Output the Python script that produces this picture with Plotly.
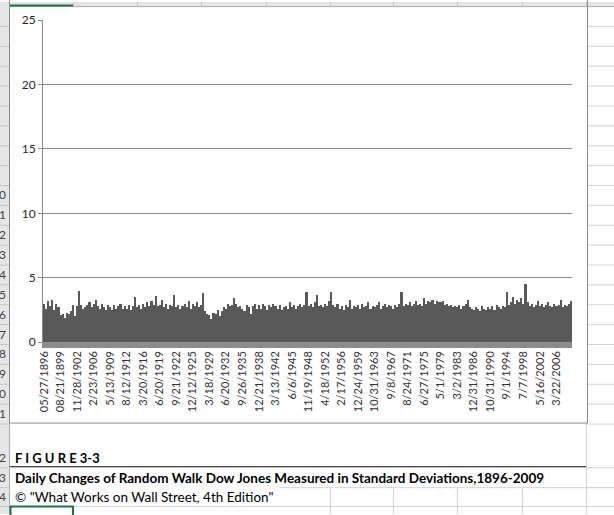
import plotly.graph_objects as go

# ---------------- data ----------------
tick_labels = ["05/27/1896", "08/21/1899", "11/28/1902", "2/23/1906", "5/13/1909",
               "8/12/1912", "3/20/1916", "6/20/1919", "9/21/1922", "12/12/1925",
               "3/18/1929", "6/20/1932", "9/26/1935", "12/21/1938", "3/13/1942",
               "6/6/1945", "11/19/1948", "4/18/1952", "2/17/1956", "12/24/1959",
               "10/31/1963", "9/8/1967", "8/24/1971", "6/27/1975", "5/1/1979",
               "3/2/1983", "12/31/1986", "10/31/1990", "9/1/1994", "7/7/1998",
               "5/16/2002", "3/22/2006"]

# daily changes in standard deviations (envelope, 8 values per labelled period)
std_changes = [
    3.0, 2.6, 3.2, 2.8, 3.3, 2.5, 3.0, 2.7,
    2.1, 2.2, 1.9, 2.3, 2.2, 2.4, 2.9, 2.0,
    2.8, 4.0, 2.9, 2.6, 2.7, 2.9, 3.1, 2.7,
    3.0, 3.3, 2.8, 2.6, 3.0, 2.7, 2.5, 2.9,
    2.7, 2.5, 2.9, 2.6, 2.8, 3.0, 2.6, 2.8,
    2.6, 2.9, 2.5, 2.8, 3.5, 2.7, 2.9, 2.6,
    3.0, 2.7, 3.1, 2.8, 3.2, 2.9, 3.6, 2.8,
    2.9, 3.3, 2.7, 3.0, 2.6, 2.9, 2.8, 3.7,
    2.7, 2.9, 2.6, 2.8, 3.0, 2.7, 3.2, 2.6,
    3.0, 2.8, 3.1, 2.7, 2.9, 3.8, 2.4, 2.2,
    2.1, 1.8, 2.3, 2.2, 2.5, 2.0, 2.4, 2.7,
    2.6, 3.0, 2.8, 2.9, 3.4, 3.0, 2.7, 2.8,
    2.6, 2.4, 2.9, 2.7, 2.2, 2.8, 3.0, 2.6,
    2.9, 2.6, 3.0, 2.8, 2.5, 2.9, 2.7, 3.0,
    2.8, 2.6, 2.9, 2.5, 2.7, 2.8, 2.6, 3.1,
    2.7, 2.9, 2.6, 2.8, 3.0, 2.7, 2.9, 3.9,
    2.8, 3.0, 2.7, 3.1, 3.7, 2.8, 2.9, 2.7,
    3.0, 2.8, 3.2, 3.9, 2.9, 2.7, 3.0, 2.6,
    2.8, 2.5, 2.9, 2.7, 3.3, 2.6, 2.8, 2.7,
    2.9, 2.6, 3.0, 2.7, 2.8, 3.1, 2.6, 2.8,
    2.7, 2.9, 3.1, 2.6, 2.8, 3.0, 2.7, 2.9,
    2.8, 2.6, 2.9, 2.7, 3.0, 3.9, 2.8, 3.0,
    2.9, 3.1, 2.8, 3.0, 3.2, 2.9, 3.0, 2.8,
    3.4, 3.0, 3.2, 3.1, 3.3, 3.0, 3.2, 3.1,
    3.1, 3.2, 2.9, 3.0, 2.8, 2.9, 2.7, 2.8,
    2.7, 2.9, 2.6, 2.8, 3.0, 3.3, 2.7, 2.6,
    2.5, 2.7, 2.6, 2.4, 2.8, 2.6, 2.5, 2.7,
    2.6, 2.8, 2.5, 2.9, 2.7, 2.6, 2.8, 2.7,
    3.9, 2.9, 3.1, 3.5, 3.0, 3.3, 3.1, 3.4,
    3.0, 4.5, 3.1, 2.8, 3.0, 2.7, 2.9, 3.2,
    2.8, 3.0, 2.7, 2.9, 3.1, 2.8, 2.7, 3.0,
    2.8, 2.9, 3.3, 2.7, 2.9, 2.8, 3.0, 3.2,
]
y_ticks = [0, 5, 10, 15, 20, 25]

fig_title_1 = "F I G U R E 3-3"
fig_title_2 = "Daily Changes of Random Walk Dow Jones Measured in Standard Deviations,1896-2009"
fig_title_3 = "\u00a9 \"What Works on Wall Street, 4th Edition\""

# ---------------- layout geometry ----------------
W, H = 614, 515
PL, PR, PT, PB = 43, 572, 18, 348   # plot area in pixels
FONT = "Lato"

def fx(px):
    return (px - PL) / (PR - PL)

def fy(py):
    return (PB - py) / (PB - PT)

n = len(std_changes)
per = n // len(tick_labels)
idx = list(range(n))
tickvals = [i * per for i in range(len(tick_labels))]

fig = go.Figure()
fig.add_trace(go.Bar(x=idx, y=std_changes, marker=dict(color="#595959", line=dict(width=0)),
                     hoverinfo="skip"))

shapes = []
grid_c = "#d4d4d4"
row_lines = [4 + 20 * k for k in range(1, 21)] + [424, 468, 488, 507]
for yy in row_lines:
    shapes.append(dict(type="line", xref="paper", yref="paper", x0=fx(587), x1=fx(614),
                       y0=fy(yy + 0.5), y1=fy(yy + 0.5), line=dict(color=grid_c, width=1), layer="below"))
for xx in [330, 393, 457, 522]:
    shapes.append(dict(type="line", xref="paper", yref="paper", x0=fx(xx + 0.5), x1=fx(xx + 0.5),
                       y0=fy(488), y1=fy(515), line=dict(color=grid_c, width=1), layer="below"))
shapes.append(dict(type="line", xref="paper", yref="paper", x0=fx(280), x1=fx(614),
                   y0=fy(488.5), y1=fy(488.5), line=dict(color=grid_c, width=1), layer="below"))
shapes.append(dict(type="line", xref="paper", yref="paper", x0=fx(73), x1=fx(614),
                   y0=fy(507.5), y1=fy(507.5), line=dict(color=grid_c, width=1), layer="below"))
shapes.append(dict(type="line", xref="paper", yref="paper", x0=fx(586.5), x1=fx(586.5),
                   y0=fy(423), y1=fy(515), line=dict(color=grid_c, width=1), layer="below"))

# column header strip (top)
shapes.append(dict(type="rect", xref="paper", yref="paper", x0=fx(0), x1=fx(614), y0=fy(0), y1=fy(4.5),
                   fillcolor="#e6e6e6", line=dict(width=0), layer="below"))
shapes.append(dict(type="line", xref="paper", yref="paper", x0=fx(0), x1=fx(614), y0=fy(4.5), y1=fy(4.5),
                   line=dict(color="#ababab", width=1), layer="below"))
for xx in [73, 137, 201, 266, 330, 393, 457, 522, 586]:
    shapes.append(dict(type="line", xref="paper", yref="paper", x0=fx(xx + 0.5), x1=fx(xx + 0.5),
                       y0=fy(0), y1=fy(4.5), line=dict(color="#c6c6c6", width=1), layer="below"))
shapes.append(dict(type="line", xref="paper", yref="paper", x0=fx(10), x1=fx(73), y0=fy(3.5), y1=fy(3.5),
                   line=dict(color="#217346", width=2), layer="below"))

# row header strip (left)
shapes.append(dict(type="rect", xref="paper", yref="paper", x0=fx(0), x1=fx(9.5), y0=fy(0), y1=fy(515),
                   fillcolor="#e6e6e6", line=dict(width=0), layer="below"))
shapes.append(dict(type="line", xref="paper", yref="paper", x0=fx(9.5), x1=fx(9.5), y0=fy(0), y1=fy(515),
                   line=dict(color="#ababab", width=1), layer="below"))
for yy in row_lines:
    shapes.append(dict(type="line", xref="paper", yref="paper", x0=fx(0), x1=fx(9.5),
                       y0=fy(yy + 0.5), y1=fy(yy + 0.5), line=dict(color="#c6c6c6", width=1), layer="below"))

# chart area border
shapes.append(dict(type="rect", xref="paper", yref="paper", x0=fx(9.5), x1=fx(587.5), y0=fy(-5), y1=fy(423.5),
                   fillcolor="rgba(0,0,0,0)", line=dict(color="#8a8a8a", width=1), layer="below"))

# thick grey horizontal axis band under the bars
shapes.append(dict(type="rect", xref="paper", yref="y", x0=0, x1=1, y0=-0.45, y1=0,
                   fillcolor="#8c8c8c", line=dict(width=0), layer="above"))

# black rule under figure label, selected cell
shapes.append(dict(type="line", xref="paper", yref="paper", x0=fx(10), x1=fx(586), y0=fy(467.5), y1=fy(467.5),
                   line=dict(color="#000000", width=1), layer="below"))
shapes.append(dict(type="rect", xref="paper", yref="paper", x0=fx(10.5), x1=fx(73), y0=fy(507.5), y1=fy(518),
                   fillcolor="rgba(0,0,0,0)", line=dict(color="#217346", width=2), layer="below"))

annotations = []
row_nums = list(range(10, 22)) + [22, 23, 24]
row_ys = [194 + 20 * k for k in range(12)] + [458, 478, 497.5]
for r, yy in zip(row_nums, row_ys):
    annotations.append(dict(xref="paper", yref="paper", x=fx(-1.5), y=fy(yy), text=str(r), showarrow=False,
                            xanchor="center", yanchor="middle", font=dict(family=FONT, size=12, color="#444444")))

annotations.append(dict(xref="paper", yref="paper", x=fx(13), y=fy(459), text="<b>" + fig_title_1 + "</b>",
                        showarrow=False, xanchor="left", yanchor="middle",
                        font=dict(family=FONT, size=13, color="#000000")))
annotations.append(dict(xref="paper", yref="paper", x=fx(13), y=fy(478.5), text="<b>" + fig_title_2 + "</b>",
                        showarrow=False, xanchor="left", yanchor="middle",
                        font=dict(family=FONT, size=13.5, color="#000000")))
annotations.append(dict(xref="paper", yref="paper", x=fx(13), y=fy(497.5), text=fig_title_3,
                        showarrow=False, xanchor="left", yanchor="middle",
                        font=dict(family=FONT, size=13.5, color="#000000")))

fig.update_layout(
    width=W, height=H,
    margin=dict(l=PL, r=W - PR, t=PT, b=H - PB, pad=0),
    paper_bgcolor="#ffffff", plot_bgcolor="#ffffff",
    showlegend=False, bargap=0,
    shapes=shapes, annotations=annotations,
    xaxis=dict(type="linear", range=[-0.5, n - 0.5], tickmode="array", tickvals=tickvals,
               ticktext=tick_labels, tickangle=-90, showgrid=False, zeroline=False, showline=False,
               ticks="", tickfont=dict(family=FONT, size=11, color="#333333"), fixedrange=True),
    yaxis=dict(range=[-0.45, 25], tickmode="array", tickvals=y_ticks, showgrid=True,
               gridcolor="#8a8a8a", gridwidth=1, zeroline=False, showline=True, linecolor="#8a8a8a",
               linewidth=1, ticks="outside", ticklen=4, tickcolor="#8a8a8a",
               tickfont=dict(family=FONT, size=12, color="#262626"), fixedrange=True),
)

fig.write_html("out.html", config={"displayModeBar": False, "staticPlot": True},
               post_script="document.body.style.margin='0';document.body.style.overflow='hidden';")
